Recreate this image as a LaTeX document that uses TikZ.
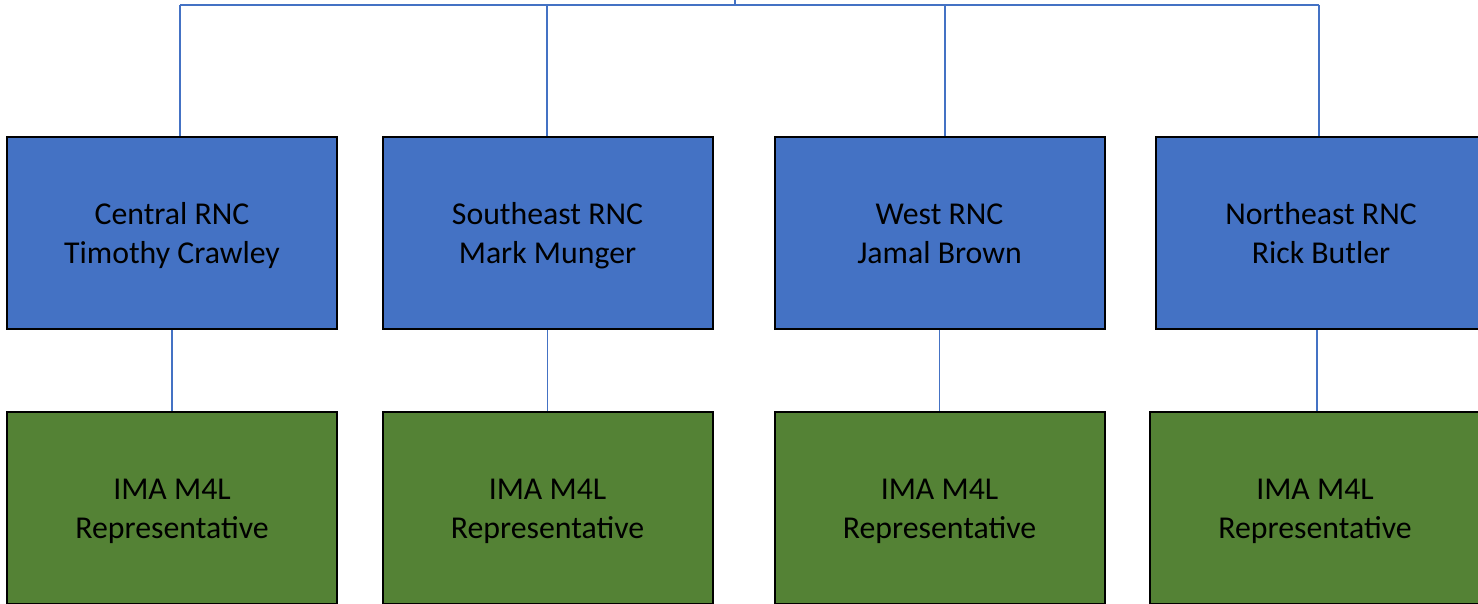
\documentclass[tikz,border=0pt]{standalone}
\usepackage{fontspec}
\setmainfont{Carlito}
\definecolor{rncblue}{HTML}{4472C4}
\definecolor{imagreen}{HTML}{548235}
\newcommand{\ls}{\strut}
\begin{document}
\begin{tikzpicture}[x=1pt,y=-1pt,
  box/.style={draw=black,line width=2pt,minimum width=330pt,minimum height=192pt,inner sep=0pt,
    align=center,text=black},
  boxtext/.style={align=center,font=\fontsize{31.8}{39}\selectfont,text=black,inner sep=0pt},
  rnc/.style={box,fill=rncblue},
  ima/.style={box,fill=imagreen},
  link/.style={draw=rncblue,line width=1.2pt}]
\useasboundingbox (0,0) rectangle (1478,603);
\clip (0,0) rectangle (1478,603);
\node[rnc] (b1) at (172,233) {};
\node[rnc] (b2) at (547.5,233) {};
\node[rnc] (b3) at (939.5,233) {};
\node[rnc] (b4) at (1321,233) {};
\node[ima] (g1) at (172,508) {};
\node[ima] (g2) at (547.5,508) {};
\node[ima] (g3) at (939.5,508) {};
\node[ima] (g4) at (1315,508) {};
\node[boxtext] (l1) at ([yshift=-2.7pt]b1.center) {Central RNC\ls\\Timothy Crawley\ls};
\node[boxtext] (l2) at ([yshift=-2.7pt]b2.center) {Southeast RNC\ls\\Mark Munger\ls};
\node[boxtext] (l3) at ([yshift=-2.7pt]b3.center) {West RNC\ls\\Jamal Brown\ls};
\node[boxtext] (l4) at ([yshift=-2.7pt]b4.center) {Northeast RNC\ls\\Rick Butler\ls};
\node[boxtext] (m1) at ([yshift=-2.7pt]g1.center) {IMA M4L\ls\\Representative\ls};
\node[boxtext] (m2) at ([yshift=-2.7pt]g2.center) {IMA M4L\ls\\Representative\ls};
\node[boxtext] (m3) at ([yshift=-2.7pt]g3.center) {IMA M4L\ls\\Representative\ls};
\node[boxtext] (m4) at ([yshift=-2.7pt]g4.center) {IMA M4L\ls\\Representative\ls};
\coordinate (top) at (735,-2);
\coordinate (bus) at (735,5);
\coordinate (t1) at (180,5);
\coordinate (t2) at (547,5);
\coordinate (t3) at (945,5);
\coordinate (t4) at (1319,5);
\coordinate (d4) at (1317,0);
\draw[link] (top) -- (bus);
\draw[link] (t1) -- (t4);
\draw[link] (t1) -- (t1 |- b1.north);
\draw[link] (t2) -- (t2 |- b2.north);
\draw[link] (t3) -- (t3 |- b3.north);
\draw[link] (t4) -- (t4 |- b4.north);
\draw[link] (b1.south) -- (g1.north);
\draw[link] (b2.south) -- (g2.north);
\draw[link] (b3.south) -- (g3.north);
\draw[link] (d4 |- b4.south) -- (d4 |- g4.north);
\end{tikzpicture}
\end{document}
